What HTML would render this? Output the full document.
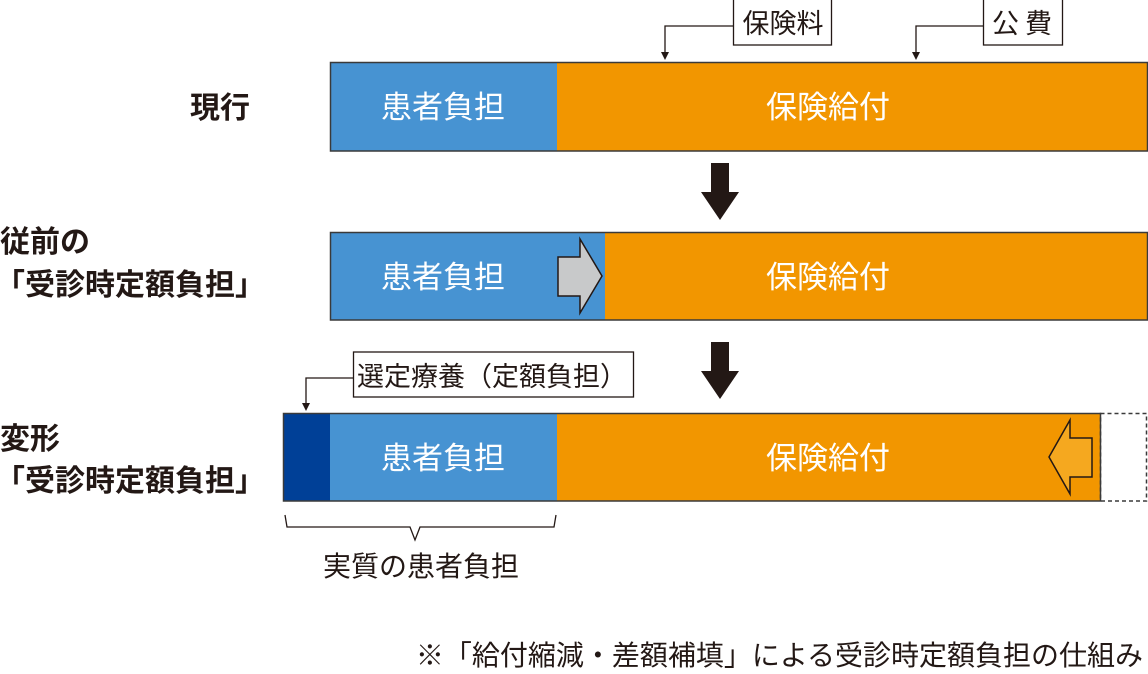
<!DOCTYPE html>
<html><head><meta charset="utf-8"><style>
html,body{margin:0;padding:0;background:#fff;}
svg{display:block;font-family:"Liberation Sans","Noto Sans CJK JP",sans-serif;}
</style></head><body>
<svg width="1148" height="674" viewBox="0 0 1148 674" xmlns="http://www.w3.org/2000/svg">
<g fill="#231815" font-weight="bold" font-size="30">
<text x="190" y="118">現行</text>
<text x="0" y="252">従前の</text>
<text x="-5" y="295">「受診時定額負担」</text>
<text x="0" y="449">変形</text>
<text x="-5" y="491">「受診時定額負担」</text>
</g>
<rect x="733.5" y="-1" width="98" height="46" fill="#fff" stroke="#231815" stroke-width="1.3"/>
<text x="783" y="33" font-size="27" text-anchor="middle" fill="#231815">保険料</text>
<rect x="983.5" y="-1" width="79" height="46" fill="#fff" stroke="#231815" stroke-width="1.3"/>
<text x="1025" y="33" font-size="27" text-anchor="middle" fill="#231815" letter-spacing="6">公費</text>
<polyline points="733,26 665,26 665,52" fill="none" stroke="#231815" stroke-width="1.3"/>
<path d="M661,52 L669,52 L665,60 z" fill="#231815"/>
<polyline points="983,26 916,26 916,52" fill="none" stroke="#231815" stroke-width="1.3"/>
<path d="M912,52 L920,52 L916,60 z" fill="#231815"/>
<rect x="557" y="62" width="590" height="89" fill="#f29600"/>
<rect x="330" y="62" width="227" height="89" fill="#4793d2"/>
<rect x="330.5" y="62.5" width="817" height="88.5" fill="none" stroke="#3a3a3a" stroke-width="1.5"/>
<g fill="#fff" font-size="31" text-anchor="middle">
<text x="443" y="118">患者負担</text>
<text x="828" y="118">保険給付</text>
</g>
<path d="M711,163 L729,163 L729,192 L739,192 L720,220 L701,192 L711,192 z" fill="#231815"/>
<rect x="605" y="232" width="542" height="88" fill="#f29600"/>
<rect x="330" y="232" width="275" height="88" fill="#4793d2"/>
<rect x="330.5" y="232.5" width="817" height="87.5" fill="none" stroke="#3a3a3a" stroke-width="1.5"/>
<path d="M558,257 L580,257 L580,239 L602,276 L580,313 L580,296 L558,296 z" fill="#c8c9ca" stroke="#231815" stroke-width="1.5"/>
<g fill="#fff" font-size="31" text-anchor="middle">
<text x="443" y="288">患者負担</text>
<text x="828" y="288">保険給付</text>
</g>
<path d="M711,342 L729,342 L729,371 L739,371 L720,399 L701,371 L711,371 z" fill="#231815"/>
<rect x="353.5" y="352" width="280" height="45" fill="#fff" stroke="#231815" stroke-width="1.3"/>
<text x="357" y="386" font-size="27" fill="#231815">選定療養（定額負担）</text>
<polyline points="353,378 306,378 306,403" fill="none" stroke="#231815" stroke-width="1.3"/>
<path d="M302,403 L310,403 L306,411 z" fill="#231815"/>
<rect x="557" y="413" width="543" height="88" fill="#f29600"/>
<rect x="330" y="413" width="227" height="88" fill="#4793d2"/>
<rect x="283" y="413" width="47" height="88" fill="#004097"/>
<rect x="283.5" y="413.5" width="817" height="87.5" fill="none" stroke="#3a3a3a" stroke-width="1.5"/>
<rect x="1100.5" y="413.5" width="46" height="87.5" fill="none" stroke="#3a3a3a" stroke-width="1.5" stroke-dasharray="4,3"/>
<path d="M1092,438 L1070,438 L1070,420 L1049,457 L1070,494 L1070,477 L1092,477 z" fill="#f5a81f" stroke="#231815" stroke-width="1.5"/>
<g fill="#fff" font-size="31" text-anchor="middle">
<text x="443" y="469">患者負担</text>
<text x="828" y="469">保険給付</text>
</g>
<polyline points="285,515 287,527 410,527 415,540 420,527 554,527 556,515" fill="none" stroke="#231815" stroke-width="1.3"/>
<text x="421" y="576" font-size="28" text-anchor="middle" fill="#231815">実質の患者負担</text>
<text x="1143" y="665" font-size="28" text-anchor="end" fill="#231815">※「給付縮減・差額補填」による受診時定額負担の仕組み</text>
</svg>
</body></html>
